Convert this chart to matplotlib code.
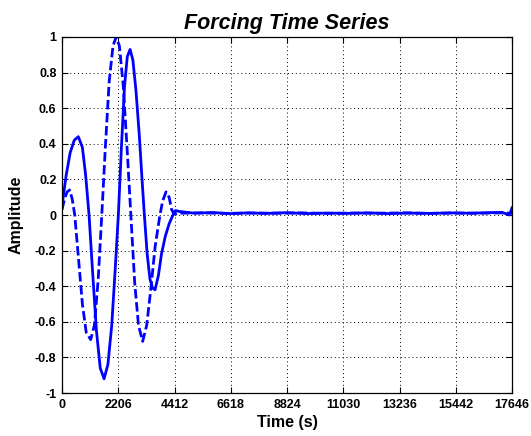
import matplotlib
matplotlib.use("Agg")
import matplotlib.pyplot as plt

plt.rcParams['axes.unicode_minus'] = False

# Forcing signal, solid trace (time in s, amplitude)
solid_t = [0, 160, 320, 480, 640, 800, 930, 1060, 1200, 1350, 1500, 1650, 1800,
           1950, 2080, 2210, 2330, 2450, 2560, 2670, 2780, 2900, 3030, 3130, 3230,
           3340, 3450, 3550, 3650, 3780, 3900, 4050, 4200, 4350, 4450, 4600,
           5200, 5900, 6600, 7300, 8000, 8800, 9600, 10400, 11200, 12000, 12800,
           13600, 14400, 15200, 16000, 16700, 17250, 17450, 17550, 17646]
solid_a = [0.05, 0.22, 0.35, 0.42, 0.44, 0.38, 0.22, 0.0, -0.32, -0.65, -0.86, -0.92,
           -0.84, -0.62, -0.32, 0.0, 0.38, 0.72, 0.89, 0.93, 0.87, 0.70, 0.45, 0.22,
           0.0, -0.22, -0.36, -0.41, -0.42, -0.34, -0.22, -0.12, -0.05, 0.0, 0.025,
           0.02, 0.01, 0.014, 0.008, 0.012, 0.009, 0.013, 0.008, 0.011, 0.009, 0.012,
           0.008, 0.011, 0.009, 0.012, 0.01, 0.013, 0.015, 0.005, 0.0, 0.04]

# Forcing signal, dashed trace
dashed_t = [0, 100, 200, 300, 400, 500, 650, 800, 950, 1125, 1270, 1420, 1560, 1700,
            1850, 2000, 2125, 2250, 2400, 2550, 2700, 2850, 3000, 3163, 3320, 3480,
            3650, 3840, 3950, 4080, 4200, 4300, 4400, 4600, 5400, 6400, 7400, 8400,
            9400, 10400, 11400, 12400, 13400, 14400, 15400, 16400, 17200, 17646]
dashed_a = [0.03, 0.09, 0.13, 0.14, 0.09, 0.0, -0.25, -0.50, -0.66, -0.70, -0.62,
            -0.36, 0.0, 0.38, 0.75, 0.95, 1.0, 0.95, 0.73, 0.38, 0.0, -0.38, -0.62,
            -0.71, -0.62, -0.42, -0.18, 0.0, 0.08, 0.13, 0.10, 0.03, 0.005, 0.01,
            0.012, 0.009, 0.011, 0.01, 0.012, 0.009, 0.011, 0.01, 0.012, 0.009,
            0.011, 0.01, 0.012, 0.01]

xticks = [0, 2206, 4412, 6618, 8824, 11030, 13236, 15442, 17646]
yticks = [1, 0.8, 0.6, 0.4, 0.2, 0, -0.2, -0.4, -0.6, -0.8, -1]
ytick_labels = ['1', '0.8', '0.6', '0.4', '0.2', '0', '-0.2', '-0.4', '-0.6', '-0.8', '-1']

fig = plt.figure(figsize=(5.31, 4.36), dpi=100)
ax = fig.add_axes([62 / 531, 1 - 393 / 436, 450 / 531, 356 / 436])

ax.plot(solid_t, solid_a, color='#0000FF', lw=2.0, solid_joinstyle='round')
ax.plot(dashed_t, dashed_a, color='#0000FF', lw=2.0, linestyle=(0, (3.4, 1.3)))

ax.set_xlim(0, 17646)
ax.set_ylim(-1, 1)
ax.set_xticks(xticks)
ax.set_xticklabels([str(v) for v in xticks])
ax.set_yticks(yticks)
ax.set_yticklabels(ytick_labels)

for lab in ax.get_xticklabels() + ax.get_yticklabels():
    lab.set_fontfamily(['Liberation Sans', 'DejaVu Sans'])
    lab.set_fontweight('bold')
    lab.set_fontsize(9)

ax.tick_params(direction='in', length=4, width=0.8, top=True, right=True,
               pad=4, colors='black')
ax.grid(True, color='black', linestyle=(0, (1, 3)), linewidth=0.7)
for sp in ax.spines.values():
    sp.set_linewidth(0.9)
    sp.set_color('black')

lab_font = ['Liberation Sans', 'DejaVu Sans']
ax.set_xlabel('Time (s)', fontfamily=lab_font, fontweight='bold', fontsize=11.5,
              labelpad=3)
ax.set_ylabel('Amplitude', fontfamily=lab_font, fontweight='bold', fontsize=11.5,
              labelpad=8)
ax.set_title('Forcing Time Series', fontfamily=lab_font, fontweight='bold',
             fontstyle='italic', fontsize=15.5, pad=6)

fig.savefig('out.png', dpi=100)
